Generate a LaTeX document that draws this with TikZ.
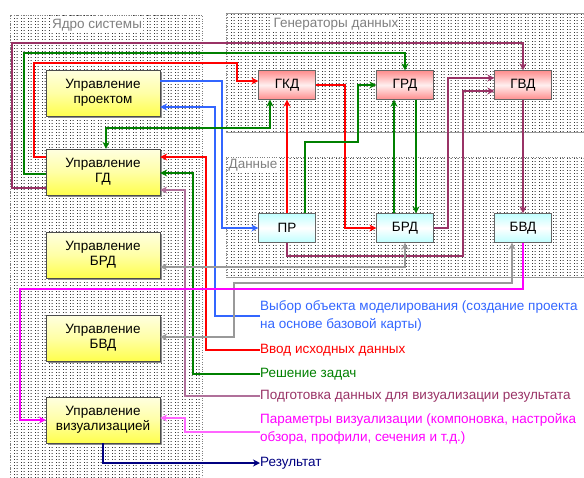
\documentclass[tikz,border=0pt]{standalone}
\usepackage{fontspec}
\setmainfont{Liberation Sans}
\usetikzlibrary{arrows.meta,patterns,patterns.meta,shadows}

\tikzdeclarepattern{
  name=coldots,
  type=uncolored,
  bounding box={(0pt,0pt) and (7pt,3pt)},
  tile size={(7pt,3pt)},
  code={
    \fill (0pt,0pt) rectangle (1.1pt,1.1pt);
    \fill (3pt,0pt) rectangle (4.1pt,1.1pt);
  }
}

\begin{document}
\begin{tikzpicture}[x=1pt,y=-1pt,font=\fontsize{13.5}{15}\selectfont]
\definecolor{cblue}{HTML}{3366FF}
\definecolor{cgreen}{HTML}{008000}
\definecolor{cmaroon}{HTML}{993366}
\definecolor{cmaroonlt}{HTML}{B0709A}
\definecolor{cmag}{HTML}{FF00FF}
\definecolor{cmaglt}{HTML}{FF66FF}
\definecolor{cnavy}{HTML}{000080}
\definecolor{cgray}{HTML}{999999}
\tikzset{
  panel/.style={pattern=coldots,pattern color=black!80},
  lbl/.style={text=black!50,inner sep=1pt,fill=white},
  upr/.style={draw=black!70,top color=yellow!12,bottom color=yellow!70,middle color=yellow!35,
    minimum width=114pt,minimum height=46pt,align=center,inner sep=1pt,
    drop shadow={shadow xshift=2pt,shadow yshift=-2pt,fill=black!45,opacity=1}},
  gen/.style={draw=black!60,top color=red!45,bottom color=red!45,middle color=red!6,
    minimum width=57pt,minimum height=29pt},
  dat/.style={draw=black!60,top color=cyan!25,bottom color=cyan!25,middle color=white,
    minimum width=57pt,minimum height=29pt},
  link/.style={line width=1.6pt,-{Stealth[length=7pt,width=7pt]}},
  both/.style={line width=1.6pt,{Stealth[length=7pt,width=7pt]}-{Stealth[length=7pt,width=7pt]}},
  leg/.style={anchor=west,align=left,inner sep=0pt,font=\fontsize{13.5}{18}\selectfont},
}
\useasboundingbox (0,0) rectangle (584,477);

% the three dotted areas
\path[panel] (10,15) rectangle (202,477);
\draw[gray,dotted] (10,477) -- (10,15) -- (202,15) -- (202,477);
\path[panel] (226,13) rectangle (584,132);
\path[panel] (226,157) rectangle (584,277);
\draw[gray!80,line width=1pt] (226,13) -- (584,13) (226,132) -- (584,132) (226,277) -- (584,277);
\draw[gray,dotted] (226,13) -- (226,132) (226,157) -- (584,157) (226,157) -- (226,277);
\node[lbl] (t-core) at (97,25) {Ядро системы};
\node[lbl] (t-gen) at (336,24) {Генераторы данных};
\node[lbl] (t-dat) at (253,165) {Данные};

% managers of the core
\foreach \nm/\yy/\txt in {proj/93/{Управление\\проектом}, gd/172/{Управление\\ГД},
    brd/255/{Управление\\БРД}, bvd/338/{Управление\\БВД}, vis/420/{Управление\\визуализацией}}
  \node[upr] (upr-\nm) at (103,\yy) {\txt};
% generators and data
\foreach \nm/\xx/\txt in {gkd/287/ГКД, grd/405/ГРД, gvd/523/ГВД}
  \node[gen] (\nm) at (\xx,85) {\txt};
\foreach \nm/\xx/\txt in {pr/287/ПР, brd/405/БРД, bvd/523/БВД}
  \node[dat] (\nm) at (\xx,228) {\txt};

% legend
\node[leg,text=cblue] (leg-vybor) at (260,316) {Выбор объекта моделирования (создание проекта\\на основе базовой карты)};
\node[leg,text=red] (leg-vvod) at (260,350) {Ввод исходных данных};
\node[leg,text=cgreen] (leg-resh) at (260,374) {Решение задач};
\node[leg,text=cmaroon] (leg-podg) at (260,396) {Подготовка данных для визуализации результата};
\node[leg,text=cmag] (leg-param) at (260,429) {Параметры визуализации (компоновка, настройка\\обзора, профили, сечения и т.д.)};
\node[leg,text=cnavy] (leg-rez) at (260,463) {Результат};

% choice of the object
\draw[link,cblue] ([yshift=12pt]upr-proj.east) -| (222,228) -- (pr.west);
\draw[link,cblue] (leg-vybor.west) -| (215,107) -- ([yshift=-14pt]upr-proj.east);
% input data
\draw[link,red] ([yshift=15pt]upr-gd.west) -| (34,63) -| (237,81) -- ([yshift=4pt]gkd.west);
\draw[link,red] (leg-vvod.west) -| (206,157) -- ([yshift=15pt]upr-gd.east);
\draw[link,red] (pr.north) -- (gkd.south);
\draw[link,red] (gkd.east) -| (345,228) -- (brd.west);
% solving
\draw[link,cgreen] ([yshift=-2pt]upr-gd.west) -| (24,53) -| (grd.north);
\draw[both,cgreen] ([xshift=3pt]upr-gd.north) |- (270,128) -- ([xshift=-17pt]gkd.south);
\draw[link,cgreen] ([xshift=18pt]pr.north) |- (358,142) |- (grd.west);
\draw[link,cgreen,line width=1.1pt] ([xshift=-11pt]brd.north) -- ([xshift=-11pt]grd.south);
\draw[link,cgreen,line width=1.1pt] ([xshift=11pt]grd.south) -- ([xshift=11pt]brd.north);
\draw[link,cgreen] (leg-resh.west) -| (193,173) -- ([yshift=-1pt]upr-gd.east);
% data for the visualisation
\draw[link,cmaroon] ([yshift=-16pt]upr-gd.west) -| (12,43) -| (gvd.north);
\draw[link,cmaroon] (brd.east) -| (448,78) -- ([yshift=7pt]gvd.west);
\draw[link,cmaroon] (pr.south) |- (463,256) |- ([yshift=-6pt]gvd.west);
\draw[link,cmaroon] (gvd.south) -- (bvd.north);
\draw[link,cmaroonlt] (leg-podg.west) -| (185,190) -- ([yshift=-18pt]upr-gd.east);
% the bases
\draw[both,cgray] ([yshift=-12pt]upr-brd.east) -| (brd.south);
\draw[both,cgray] ([yshift=1pt]upr-bvd.east) -| (234,283) -| ([xshift=-11pt]bvd.south);
% visualisation
\draw[link,cmag] (bvd.south) |- (20,289) |- (upr-vis.west);
\draw[link,cmaglt] ([yshift=-3pt]leg-param.west) -| (185,418) -- ([yshift=2pt]upr-vis.east);
\draw[link,cnavy] (upr-vis.south) |- (leg-rez.west);
\end{tikzpicture}
\end{document}
